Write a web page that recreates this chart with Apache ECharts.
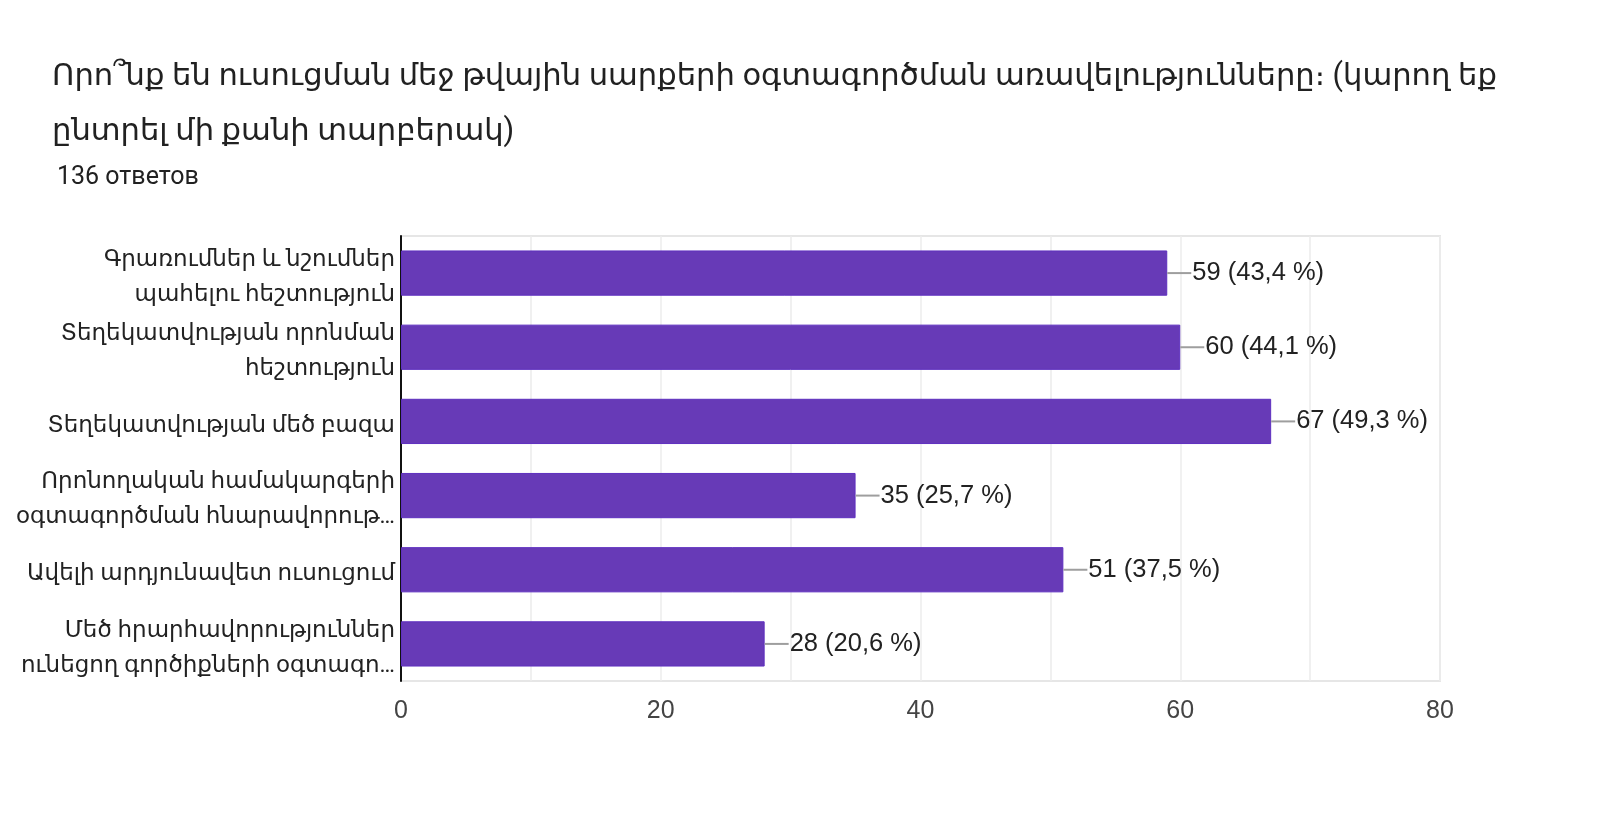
<!DOCTYPE html>
<html>
<head>
<meta charset="utf-8">
<script src="https://cdn.jsdelivr.net/npm/echarts@6/dist/echarts.min.js"></script>
<style>
html,body{margin:0;padding:0;background:#fff;}
#c{width:1600px;height:813px;}
</style>
</head>
<body>
<div id="c"></div>
<script>
const titleText = 'Որո՞նք են ուսուցման մեջ թվային սարքերի օգտագործման առավելությունները։ (կարող եք\nընտրել մի քանի տարբերակ)';
const subtitleText = '136 ответов';
const categories = [
  'Գրառումներ և նշումներ\nպահելու հեշտություն',
  'Տեղեկատվության որոնման\nհեշտություն',
  'Տեղեկատվության մեծ բազա',
  'Որոնողական համակարգերի\nօգտագործման հնարավորութ…',
  'Ավելի արդյունավետ ուսուցում',
  'Մեծ հրարհավորություններ\nունեցող գործիքների օգտագո…'
];
const counts = [59, 60, 67, 35, 51, 28];
const percents = ['43,4', '44,1', '49,3', '25,7', '37,5', '20,6'];
const xTicks = [0, 20, 40, 60, 80];

const FONT = 'Roboto, "DejaVu Sans", sans-serif';
const chart = echarts.init(document.getElementById('c'));
chart.setOption({
  animation: false,
  backgroundColor: '#fff',
  title: [
    {text: titleText, left: 47, top: 45,
     textStyle: {fontFamily: FONT, fontSize: 30.6, fontWeight: 'normal', color: '#212121', lineHeight: 55}},
    {text: subtitleText, left: 52, top: 160,
     textStyle: {fontFamily: FONT, fontSize: 25, fontWeight: 'normal', color: '#212121'}}
  ],
  grid: {left: 401, right: 160, top: 236, bottom: 132, show: true, borderColor: '#e6e6e6', borderWidth: 2, containLabel: false},
  xAxis: {
    type: 'value', min: xTicks[0], max: xTicks[xTicks.length - 1], interval: 20,
    axisLine: {show: false}, axisTick: {show: false},
    axisLabel: {fontFamily: '"Liberation Sans", Arial, sans-serif', fontSize: 25, color: '#444', margin: 18},
    splitLine: {show: true, lineStyle: {color: '#ececec', width: 1.5}},
    minorTick: {show: false, splitNumber: 2},
    minorSplitLine: {show: true, lineStyle: {color: '#ececec', width: 1.5}}
  },
  yAxis: {
    type: 'category', data: categories, inverse: true,
    axisLine: {show: true, lineStyle: {color: '#111', width: 2}},
    axisTick: {show: false},
    axisLabel: {
      interval: 0, hideOverlap: false, margin: 6, align: 'right',
      formatter: function (v) { return v.split('\n').map(function (s) { return '{a|' + s + '}'; }).join('\n'); },
      rich: {a: {fontFamily: FONT, fontSize: 23, color: '#222', lineHeight: 35, padding: [9, 0, 0, 0], align: 'right'}}
    }
  },
  series: [{
    type: 'bar',
    data: counts,
    barCategoryGap: '39%',
    itemStyle: {color: '#673ab7', borderColor: '#5e2fbf', borderWidth: 1},
    label: {
      show: true, position: 'right', distance: 0,
      formatter: function (p) { return '{ln|}{t|' + counts[p.dataIndex] + ' (' + percents[p.dataIndex] + ' %)}'; },
      rich: {
        ln: {width: 24, height: 2, backgroundColor: '#9e9e9e'},
        t: {fontFamily: '"Liberation Sans", Arial, sans-serif', fontSize: 25.5, color: '#222', padding: [0, 0, 0, 1]}
      }
    }
  }]
});
</script>
</body>
</html>
